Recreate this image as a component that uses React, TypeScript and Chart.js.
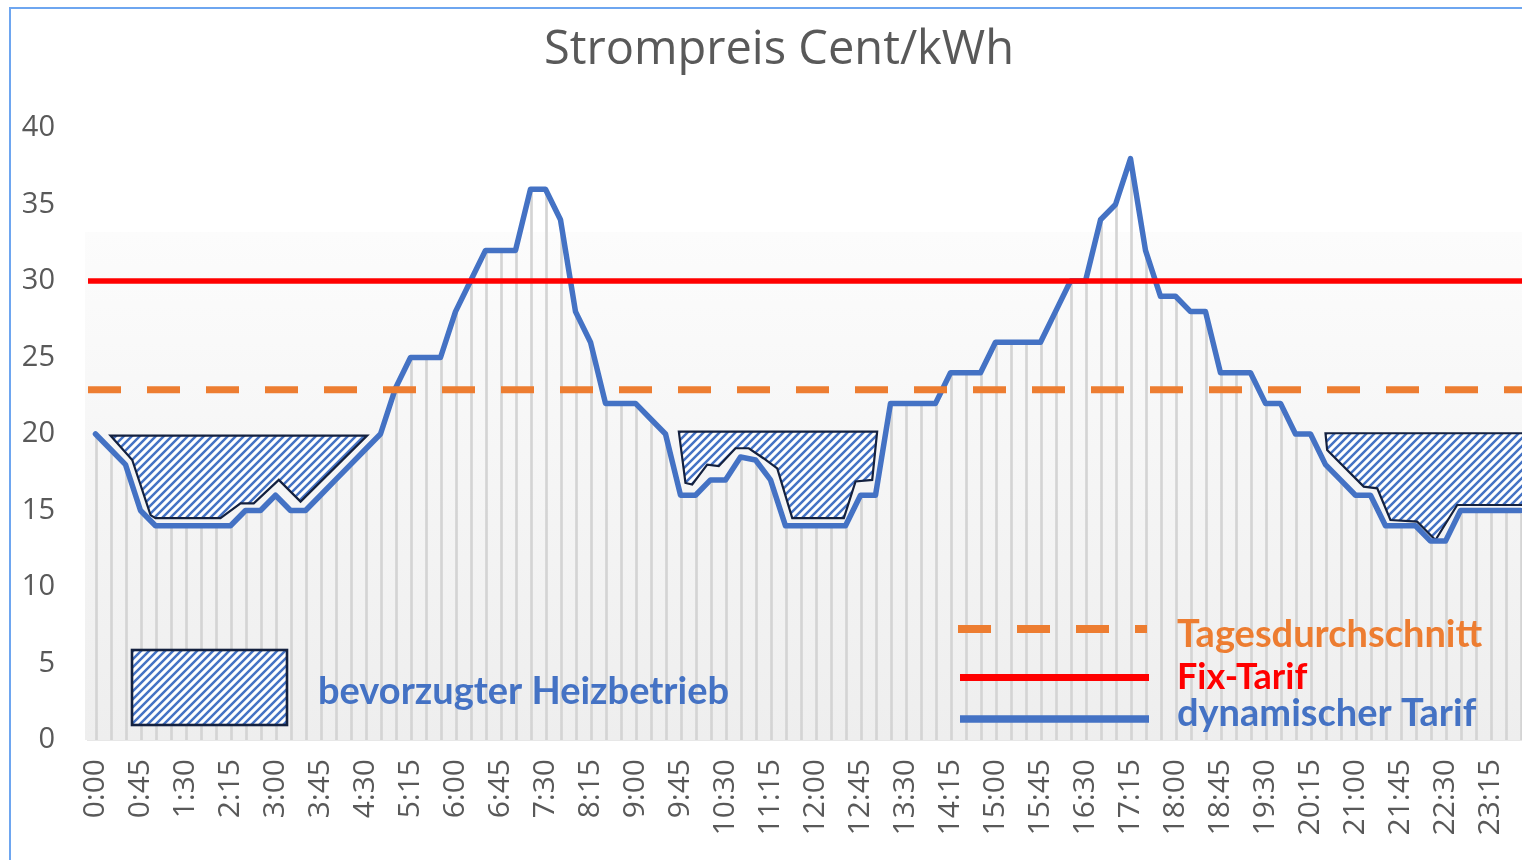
import React, { useEffect, useRef } from "react";
import { Chart, registerables } from "chart.js";

Chart.register(...registerables);

// ---- data ----
const chartTitle = "Strompreis Cent/kWh";

const timeLabels = [
  "0:00", "0:15", "0:30", "0:45", "1:00", "1:15", "1:30", "1:45",
  "2:00", "2:15", "2:30", "2:45", "3:00", "3:15", "3:30", "3:45",
  "4:00", "4:15", "4:30", "4:45", "5:00", "5:15", "5:30", "5:45",
  "6:00", "6:15", "6:30", "6:45", "7:00", "7:15", "7:30", "7:45",
  "8:00", "8:15", "8:30", "8:45", "9:00", "9:15", "9:30", "9:45",
  "10:00", "10:15", "10:30", "10:45", "11:00", "11:15", "11:30", "11:45",
  "12:00", "12:15", "12:30", "12:45", "13:00", "13:15", "13:30", "13:45",
  "14:00", "14:15", "14:30", "14:45", "15:00", "15:15", "15:30", "15:45",
  "16:00", "16:15", "16:30", "16:45", "17:00", "17:15", "17:30", "17:45",
  "18:00", "18:15", "18:30", "18:45", "19:00", "19:15", "19:30", "19:45",
  "20:00", "20:15", "20:30", "20:45", "21:00", "21:15", "21:30", "21:45",
  "22:00", "22:15", "22:30", "22:45", "23:00", "23:15", "23:30", "23:45",
];

const priceValues = [
  20, 19, 18, 15, 14, 14, 14, 14, 14, 14,
  15, 15, 16, 15, 15, 16, 17, 18, 19, 20,
  23, 25, 25, 25, 28, 30, 32, 32, 32, 36,
  36, 34, 28, 26, 22, 22, 22, 21, 20, 16,
  16, 17, 17, 18.5, 18.3, 17, 14, 14, 14, 14,
  14, 16, 16, 22, 22, 22, 22, 24, 24, 24,
  26, 26, 26, 26, 28, 30, 30, 34, 35, 38,
  32, 29, 29, 28, 28, 24, 24, 24, 22, 22,
  20, 20, 18, 17, 16, 16, 14, 14, 14, 13,
  13, 15, 15, 15, 15, 15,
];

const fixTarif = 30;
const tagesdurchschnitt = 22.9;
const yTicks = [0, 5, 10, 15, 20, 25, 30, 35, 40];

// preferred heating zones: outline points (category index, Cent/kWh)
const heatZone1X = [1.0, 18.11, 13.67, 12.22, 10.55, 9.67, 8.33, 4.0, 3.67, 2.45];
const heatZone1Y = [19.9, 19.9, 15.58, 17.0, 15.47, 15.47, 14.5, 14.5, 14.7, 18.3];
const heatZone2X = [38.89, 52.11, 51.78, 50.67, 49.89, 46.45, 45.45, 44.55, 43.55, 42.67, 41.55, 40.78, 39.78, 39.33];
const heatZone2Y = [20.15, 20.15, 17.0, 16.9, 14.5, 14.5, 17.75, 18.4, 19.07, 19.07, 17.9, 18.0, 16.7, 16.8];
const heatZone3X = [82.0, 96.5, 96.5, 90.78, 89.33, 88.11, 86.33, 85.45, 84.55, 82.11];
const heatZone3Y = [20.05, 20.05, 15.36, 15.36, 13.07, 14.27, 14.38, 16.45, 16.56, 18.95];

const legendHeat = "bevorzugter Heizbetrieb";
const legendAvg = "Tagesdurchschnitt";
const legendFix = "Fix-Tarif";
const legendDyn = "dynamischer Tarif";

const BLUE = "#4472C4";
const ORANGE = "#ED7D31";
const RED = "#FF0000";
const NAVY = "#14213F";
const GREY_TEXT = "#595959";

function makeHatch(): CanvasPattern | string {
  const c = document.createElement("canvas");
  c.width = 8;
  c.height = 8;
  const g = c.getContext("2d");
  if (!g) return BLUE;
  g.fillStyle = "#ffffff";
  g.fillRect(0, 0, 8, 8);
  g.strokeStyle = BLUE;
  g.lineWidth = 2.5;
  g.beginPath();
  g.moveTo(-2, 10);
  g.lineTo(10, -2);
  g.moveTo(-2, 2);
  g.lineTo(2, -2);
  g.moveTo(6, 10);
  g.lineTo(10, 6);
  g.stroke();
  return g.createPattern(c, "repeat") || BLUE;
}

export default function App() {
  const canvasRef = useRef<HTMLCanvasElement | null>(null);

  useEffect(() => {
    const canvas = canvasRef.current;
    if (!canvas) return;
    const hatch = makeHatch();

    const backgroundPlugin = {
      id: "plotBackground",
      beforeDatasetsDraw(chart: any) {
        const { ctx, chartArea } = chart;
        const top = chartArea.top + 104;
        const grad = ctx.createLinearGradient(0, top, 0, chartArea.bottom);
        grad.addColorStop(0, "#fcfcfc");
        grad.addColorStop(1, "#eeeeee");
        ctx.save();
        ctx.fillStyle = grad;
        ctx.fillRect(chartArea.left - 3, top, chartArea.right - chartArea.left + 3, chartArea.bottom - top);
        ctx.restore();
      },
    };

    const zones = [
      [heatZone1X, heatZone1Y],
      [heatZone2X, heatZone2Y],
      [heatZone3X, heatZone3Y],
    ];

    const zonePlugin = {
      id: "heatZones",
      afterDatasetDraw(chart: any, args: any) {
        if (args.index !== 3) return;
        const { ctx, chartArea, scales } = chart;
        const xs = scales.x;
        const ys = scales.y;
        ctx.save();
        ctx.beginPath();
        ctx.rect(chartArea.left, chartArea.top, chartArea.right - chartArea.left, chartArea.bottom - chartArea.top);
        ctx.clip();
        for (const [zx, zy] of zones) {
          ctx.beginPath();
          for (let i = 0; i < zx.length; i++) {
            const px = xs.getPixelForValue(zx[i]);
            const py = ys.getPixelForValue(zy[i]);
            if (i === 0) ctx.moveTo(px, py);
            else ctx.lineTo(px, py);
          }
          ctx.closePath();
          ctx.fillStyle = hatch;
          ctx.fill();
          ctx.lineWidth = 2.2;
          ctx.strokeStyle = NAVY;
          ctx.lineJoin = "miter";
          ctx.stroke();
        }
        ctx.restore();
      },
    };

    const overlayPlugin = {
      id: "titleAndLegend",
      afterDraw(chart: any) {
        const { ctx } = chart;
        ctx.save();
        // title
        ctx.textBaseline = "alphabetic";
        ctx.textAlign = "center";
        ctx.font = "47px 'Open Sans'";
        ctx.fillStyle = GREY_TEXT;
        ctx.fillText(chartTitle, 779, 64);

        // hatched legend box
        ctx.textAlign = "left";
        ctx.fillStyle = hatch;
        ctx.fillRect(132, 650, 155, 75);
        ctx.lineWidth = 2.6;
        ctx.strokeStyle = NAVY;
        ctx.strokeRect(132, 650, 155, 75);
        ctx.font = "bold 38px Lato";
        ctx.fillStyle = BLUE;
        ctx.fillText(legendHeat, 318, 704);

        // line legend
        ctx.lineCap = "butt";
        ctx.strokeStyle = ORANGE;
        ctx.lineWidth = 8;
        ctx.setLineDash([33, 26]);
        ctx.beginPath();
        ctx.moveTo(958, 629);
        ctx.lineTo(1147, 629);
        ctx.stroke();
        ctx.setLineDash([]);
        ctx.strokeStyle = RED;
        ctx.lineWidth = 7;
        ctx.beginPath();
        ctx.moveTo(960, 677.5);
        ctx.lineTo(1149, 677.5);
        ctx.stroke();
        ctx.strokeStyle = BLUE;
        ctx.lineWidth = 7.5;
        ctx.beginPath();
        ctx.moveTo(960, 719);
        ctx.lineTo(1149, 719);
        ctx.stroke();

        ctx.font = "bold 38px Lato";
        ctx.fillStyle = ORANGE;
        ctx.fillText(legendAvg, 1177, 647);
        ctx.font = "bold 36px Lato";
        ctx.fillStyle = RED;
        ctx.fillText(legendFix, 1177, 689);
        ctx.font = "bold 38px Lato";
        ctx.fillStyle = BLUE;
        ctx.fillText(legendDyn, 1177, 726);
        ctx.restore();
      },
    };

    const chart = new Chart(canvas, {
      type: "line",
      data: {
        labels: timeLabels,
        datasets: [
          {
            type: "line",
            label: legendFix,
            data: [
              { x: 0, y: fixTarif },
              { x: 1, y: fixTarif },
            ],
            xAxisID: "x2",
            borderColor: RED,
            borderWidth: 5.5,
            pointRadius: 0,
            fill: false,
            order: 0,
          } as any,
          {
            type: "line",
            label: legendAvg,
            data: [
              { x: 0, y: tagesdurchschnitt },
              { x: 1, y: tagesdurchschnitt },
            ],
            xAxisID: "x2",
            borderColor: ORANGE,
            borderWidth: 7,
            borderDash: [33, 26],
            borderCapStyle: "butt",
            pointRadius: 0,
            fill: false,
            order: 1,
          } as any,
          {
            type: "line",
            label: legendDyn,
            data: priceValues,
            xAxisID: "x",
            borderColor: BLUE,
            borderWidth: 5.5,
            borderJoinStyle: "round",
            borderCapStyle: "round",
            pointRadius: 0,
            tension: 0,
            fill: false,
            order: 2,
          } as any,
          {
            type: "bar",
            label: "drop",
            data: priceValues,
            xAxisID: "x",
            backgroundColor: "#d4d4d4",
            barThickness: 2,
            borderWidth: 0,
            order: 3,
          } as any,
        ],
      },
      options: {
        animation: false,
        responsive: false,
        maintainAspectRatio: false,
        devicePixelRatio: 1,
        layout: { padding: { left: 0, right: 0, top: 128, bottom: 0 } },
        plugins: {
          legend: { display: false },
          tooltip: { enabled: false },
          title: { display: false },
        },
        scales: {
          x: {
            type: "category",
            offset: true,
            grid: { display: false, drawTicks: false },
            border: { display: true, color: "#cfcfcf", width: 1.5 },
            afterFit(scale: any) {
              scale.height = 120;
              scale.paddingLeft = 0;
              scale.paddingRight = 0;
            },
            ticks: {
              autoSkip: false,
              minRotation: 90,
              maxRotation: 90,
              padding: 19,
              color: GREY_TEXT,
              font: { family: "'Open Sans'", size: 30 },
              callback: function (this: any, value: any, index: number) {
                return index % 3 === 0 ? timeLabels[index] : null;
              },
            },
          },
          x2: {
            type: "linear",
            display: false,
            min: 0,
            max: 1,
            offset: false,
          },
          y: {
            min: 0,
            max: 40,
            grid: { display: false, drawTicks: false },
            border: { display: false },
            afterFit(scale: any) {
              scale.width = 88;
            },
            afterBuildTicks(scale: any) {
              scale.ticks = yTicks.map((v) => ({ value: v }));
            },
            ticks: {
              padding: 33,
              color: GREY_TEXT,
              font: { family: "'Open Sans'", size: 29 },
            },
          },
        },
      } as any,
      plugins: [backgroundPlugin, zonePlugin, overlayPlugin],
    });

    return () => {
      chart.destroy();
    };
  }, []);

  return (
    <div
      style={{
        position: "fixed",
        left: 0,
        top: 0,
        width: 1522,
        height: 860,
        overflow: "hidden",
        background: "#ffffff",
      }}
    >
      <canvas
        ref={canvasRef}
        width={1528}
        height={860}
        style={{ position: "absolute", left: 0, top: 0, width: 1528, height: 860 }}
      />
      <div
        style={{
          position: "absolute",
          left: 9,
          top: 7,
          width: 1700,
          height: 1000,
          borderLeft: "2px solid #6ea6f0",
          borderTop: "2px solid #6ea6f0",
          pointerEvents: "none",
        }}
      />
    </div>
  );
}
